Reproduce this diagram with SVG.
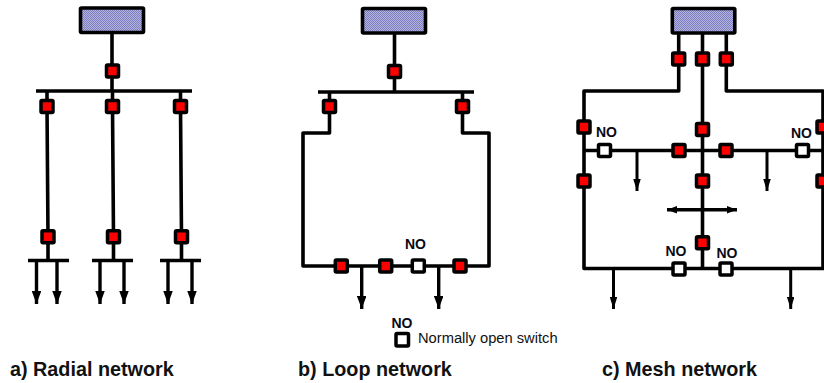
<svg xmlns="http://www.w3.org/2000/svg" width="824" height="383" viewBox="0 0 824 383">
<style>
.w{fill:none;stroke:#000;stroke-width:3.6;stroke-linejoin:round;stroke-linecap:butt}
.a{fill:none;stroke:#000;stroke-width:3.4;marker-end:url(#ah)}
.m{fill:none;stroke:#000;stroke-width:3;marker-end:url(#ahs)}
.src{fill:url(#dots);stroke:#000;stroke-width:3.6;stroke-linejoin:round}
.sr{fill:#f00;stroke:#000;stroke-width:3.5;stroke-linejoin:round}
.so{fill:#fff;stroke:#000;stroke-width:3.5;stroke-linejoin:round}
.no{font:bold 14px "Liberation Sans",Arial,sans-serif;fill:#0a0a14;text-anchor:middle}
.t{font:bold 19.8px "Liberation Sans",Arial,sans-serif;fill:#111}
.l{font:14.7px "Liberation Sans",Arial,sans-serif;fill:#111}
</style>
<defs>
<pattern id="dots" width="2" height="2" patternUnits="userSpaceOnUse"><rect width="2" height="2" fill="#b4b4dc"/><rect width="1" height="1" fill="#7c7cc0"/><rect x="1" y="1" width="1" height="1" fill="#7c7cc0"/></pattern>
<marker id="ah" markerUnits="userSpaceOnUse" markerWidth="13" markerHeight="9.500" refX="13" refY="4.750" orient="auto" viewBox="0 0 13 9.500"><path d="M0 0L13 4.750L0 9.500Z" fill="#000"/></marker>
<marker id="ahs" markerUnits="userSpaceOnUse" markerWidth="12" markerHeight="7.500" refX="12" refY="3.750" orient="auto" viewBox="0 0 12 7.500"><path d="M0 0L12 3.750L0 7.500Z" fill="#000"/></marker>
<symbol id="red" overflow="visible"><rect class="sr" x="-6" y="-6" width="12" height="12" rx="1"/></symbol>
<symbol id="open" overflow="visible"><rect class="so" x="-6" y="-6" width="12" height="12" rx="1"/></symbol>
</defs>
<g id="connectors">
<!-- radial -->
<path class="w" d="M112 32V91M36 91H192M47 91V106.5L48 237V260.5M112.5 91V106.5L113.5 237V260.5M180.5 91V106.5L181.5 237V260.5M28 260.5H69M92 260.5H133M160 260.5H201"/>
<path class="a" d="M36.500 260.500V304"/><path class="a" d="M57 260.500V304"/><path class="a" d="M100 260.500V304"/><path class="a" d="M124 260.500V304"/><path class="a" d="M168 260.500V304"/><path class="a" d="M192 260.500V304"/>
<!-- loop -->
<path class="w" d="M394.500 33V92M318 92H474M329.500 92V133H303V266H489V133H462.500V92"/>
<path class="a" d="M361.700 266V309"/><path class="a" d="M438.700 266V309"/>
<!-- mesh -->
<path class="w" d="M678.700 33V91H584V268.500H824M726.300 33V91H823V268.500M702.500 33V268.500M584 150.500H823"/>
<path class="m" d="M637 150.500V191"/><path class="m" d="M767 150.500V191"/><path class="m" d="M613.500 268.500V309"/><path class="m" d="M790.700 268.500V309"/>
<path d="M667 209.700H737" fill="none" stroke="#000" stroke-width="3.400"/>
<path d="M667 209.700L677 206V213.400ZM737 209.700L727 206V213.400Z" fill="#000"/>
</g>
<g id="radial-source"><rect class="src" x="80.500" y="8" width="63" height="24.500" rx="1"/></g>
<g id="radial-switches"><use href="#red" x="112.500" y="71"/><use href="#red" x="47" y="106.500"/><use href="#red" x="112.500" y="106.500"/><use href="#red" x="180.500" y="106.500"/><use href="#red" x="48" y="236.700"/><use href="#red" x="113.500" y="236.700"/><use href="#red" x="181.500" y="236.700"/></g>
<g id="loop-source"><rect class="src" x="362.500" y="8.500" width="63" height="24.500" rx="1"/></g>
<g id="loop-switches"><use href="#red" x="394.500" y="71.500"/><use href="#red" x="329.500" y="106.500"/><use href="#red" x="462.500" y="106.500"/><use href="#red" x="341.300" y="266"/><use href="#red" x="385.700" y="266"/><use href="#open" x="418.300" y="266"/><use href="#red" x="460" y="266"/></g>
<g id="mesh-source"><rect class="src" x="672.300" y="8.500" width="62.500" height="24.500" rx="1"/></g>
<g id="mesh-switches"><use href="#red" x="678.700" y="59"/><use href="#red" x="702.500" y="59"/><use href="#red" x="726.300" y="59"/><use href="#red" x="584" y="127"/><use href="#red" x="584" y="181"/><use href="#red" x="702.500" y="129.500"/><use href="#red" x="702.500" y="181"/><use href="#red" x="702.500" y="242.700"/><use href="#red" x="823" y="127"/><use href="#red" x="823" y="181"/><use href="#open" x="604.500" y="150.500"/><use href="#red" x="679" y="150.500"/><use href="#red" x="726" y="150.500"/><use href="#open" x="802.500" y="150.500"/><use href="#open" x="679" y="269"/><use href="#open" x="726" y="269"/></g>
<g id="legend"><rect class="so" x="396" y="333.500" width="12.500" height="12.500" rx="1"/><text class="no" x="402" y="328">NO</text><text class="l" x="418" y="342.500">Normally open switch</text></g>
<g id="labels">
<text class="no" x="415.500" y="249">NO</text><text class="no" x="606.500" y="137">NO</text><text class="no" x="801.500" y="138">NO</text><text class="no" x="676" y="255.500">NO</text><text class="no" x="727" y="258">NO</text>
<text class="t" x="10" y="375.500">a) Radial network</text><text class="t" x="298" y="375.500">b) Loop network</text><text class="t" x="602" y="375.500">c) Mesh network</text>
</g>
</svg>
